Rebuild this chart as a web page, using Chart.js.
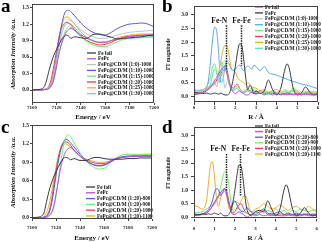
<!DOCTYPE html>
<html>
<head>
<meta charset="utf-8">
<script src="https://cdn.jsdelivr.net/npm/chart.js@4.4.1/dist/chart.umd.min.js"></script>
<style>
  body { margin: 0; background: #fff; width: 322px; height: 242px; overflow: hidden; position: relative; }
  .panel { position: absolute; width: 161px; height: 121px; }
  .panel canvas { position: absolute; left: 0; top: 0; }
  .tag { position: absolute; left: 1px; top: -5px; font: bold 19px "Liberation Serif", serif; color: #000; }
</style>
</head>
<body>
<div class="panel" style="left:0;top:0"><canvas id="chartA" width="161" height="121"></canvas><div class="tag">a</div></div>
<div class="panel" style="left:161px;top:0"><canvas id="chartB" width="161" height="121"></canvas><div class="tag">b</div></div>
<div class="panel" style="left:0;top:121px"><canvas id="chartC" width="161" height="121"></canvas><div class="tag">c</div></div>
<div class="panel" style="left:161px;top:121px"><canvas id="chartD" width="161" height="121"></canvas><div class="tag">d</div></div>
<script>
// XANES energy grid (eV)
const energy = [7100, 7105, 7108, 7110, 7112, 7114, 7116, 7118, 7120, 7122, 7124, 7126, 7128, 7130, 7132,
  7135, 7140, 7145, 7150, 7155, 7160, 7165, 7170, 7175, 7180, 7185, 7190, 7195, 7200];

// panel a
const aLabels = ["Fe foil", "FePc", "FePc@CD/M (1:0)-1000", "FePc@CD/M (1:10)-1000", "FePc@CD/M (1:15)-1000",
  "FePc@CD/M (1:20)-1000", "FePc@CD/M (1:25)-1000", "FePc@CD/M (1:30)-1000"];
const aFeFoil = [0, 0.01, 0.02, 0.06, 0.18, 0.36, 0.51, 0.64, 0.73, 0.82, 0.91, 0.97, 1.0, 0.98, 0.94, 0.97, 0.95, 0.94, 1.01, 1.02, 0.99, 0.96, 0.93, 0.94, 0.95, 0.96, 0.97, 0.99, 1.0];
const aFePc = [0, 0, 0, 0.01, 0.01, 0.03, 0.08, 0.2, 0.42, 0.65, 0.82, 0.95, 1.05, 1.1, 1.12, 1.08, 1.0, 0.95, 0.9, 0.87, 0.87, 0.9, 0.93, 0.95, 0.97, 0.98, 0.99, 1.0, 1.0];
const a1to0 = [0, 0, 0, 0.01, 0.02, 0.05, 0.12, 0.3, 0.55, 0.8, 1.0, 1.15, 1.25, 1.28, 1.26, 1.2, 1.1, 1.02, 0.97, 0.94, 0.94, 0.97, 1.0, 1.03, 1.05, 1.06, 1.07, 1.08, 1.08];
const a1to10 = [0, 0, 0, 0.01, 0.02, 0.04, 0.12, 0.3, 0.58, 0.88, 1.15, 1.35, 1.44, 1.45, 1.42, 1.35, 1.22, 1.12, 1.05, 1.01, 1.0, 1.05, 1.12, 1.17, 1.2, 1.21, 1.22, 1.2, 1.15];
const a1to15 = [0, 0, 0, 0.01, 0.01, 0.03, 0.08, 0.2, 0.4, 0.65, 0.85, 1.0, 1.1, 1.15, 1.14, 1.08, 0.97, 0.88, 0.82, 0.79, 0.79, 0.83, 0.88, 0.92, 0.94, 0.95, 0.95, 0.96, 0.96];
const a1to20 = [0, 0, 0, 0.01, 0.02, 0.08, 0.22, 0.45, 0.7, 0.95, 1.12, 1.2, 1.23, 1.22, 1.18, 1.1, 0.98, 0.9, 0.85, 0.82, 0.83, 0.87, 0.92, 0.96, 0.98, 0.99, 1.0, 1.0, 1.0];
const a1to25 = [0, 0, 0, 0.01, 0.02, 0.05, 0.15, 0.35, 0.62, 0.92, 1.15, 1.28, 1.33, 1.32, 1.28, 1.2, 1.06, 0.96, 0.89, 0.86, 0.86, 0.9, 0.95, 0.98, 1.0, 1.01, 1.02, 1.02, 1.02];
const a1to30 = [0, 0, 0, 0.01, 0.01, 0.03, 0.1, 0.25, 0.5, 0.78, 1.0, 1.14, 1.2, 1.22, 1.2, 1.13, 1.02, 0.94, 0.89, 0.87, 0.88, 0.9, 0.92, 0.93, 0.94, 0.95, 0.96, 0.97, 0.98];

// panel c
const cLabels = ["Fe foil", "FePc", "FePc@CD/M (1:20)-800", "FePc@CD/M (1:20)-900", "FePc@CD/M (1:20)-1000", "FePc@CD/M (1:20)-1100"];
const cFeFoil = [0, 0.01, 0.03, 0.08, 0.25, 0.42, 0.55, 0.66, 0.75, 0.83, 0.9, 0.96, 0.98, 0.97, 0.94, 0.96, 0.93, 0.93, 0.97, 0.98, 0.96, 0.95, 0.95, 0.95, 0.96, 0.96, 0.97, 0.97, 0.97];
const cFePc = [0, 0, 0, 0.01, 0.01, 0.03, 0.08, 0.18, 0.38, 0.6, 0.82, 0.97, 1.07, 1.12, 1.14, 1.1, 1.0, 0.94, 0.9, 0.88, 0.88, 0.92, 0.96, 0.98, 0.99, 1.0, 1.0, 1.01, 1.01];
const c800 = [0, 0, 0, 0.01, 0.02, 0.07, 0.2, 0.42, 0.68, 0.92, 1.1, 1.22, 1.27, 1.26, 1.22, 1.15, 1.03, 0.93, 0.87, 0.84, 0.85, 0.9, 0.96, 0.99, 1.0, 1.0, 1.0, 1.0, 1.0];
const c900 = [0, 0, 0, 0.01, 0.01, 0.03, 0.06, 0.15, 0.35, 0.62, 0.9, 1.15, 1.3, 1.35, 1.32, 1.22, 1.05, 0.92, 0.84, 0.79, 0.8, 0.88, 0.97, 1.02, 1.03, 1.03, 1.03, 1.03, 1.03];
const c1000 = [0, 0, 0, 0.01, 0.03, 0.1, 0.25, 0.5, 0.75, 0.98, 1.14, 1.21, 1.23, 1.22, 1.18, 1.1, 1.0, 0.92, 0.87, 0.85, 0.86, 0.9, 0.95, 0.98, 0.99, 1.0, 1.0, 1.0, 1.0];
const c1100 = [0, 0, 0, 0.02, 0.08, 0.2, 0.38, 0.6, 0.82, 1.0, 1.12, 1.18, 1.2, 1.18, 1.15, 1.08, 1.0, 0.95, 0.92, 0.9, 0.9, 0.92, 0.95, 0.98, 1.0, 1.01, 1.02, 1.03, 1.03];

// FT-EXAFS R grid (Å)
const rGrid = [0, 0.2, 0.4, 0.6, 0.7, 0.8, 0.9, 1.0, 1.1, 1.2, 1.3, 1.4, 1.5, 1.6, 1.7, 1.8, 1.9, 2.0, 2.1, 2.2,
  2.3, 2.4, 2.5, 2.6, 2.7, 2.8, 2.9, 3.0, 3.2, 3.4, 3.6, 3.8, 4.0, 4.2, 4.4, 4.5, 4.6, 4.8, 5.0, 5.2, 5.4, 5.6, 5.8, 6.0];

// panel b (legend order as printed)
const bLabels = aLabels;
const bFeFoil = [0.05, 0.08, 0.12, 0.2, 0.25, 0.35, 0.45, 0.6, 0.7, 0.85, 0.95, 1.05, 1.1, 0.95, 0.6, 0.3, 0.15, 0.1, 0.15, 0.2, 0.15, 0.1, 0.05, 0.05, 0.1, 0.15, 0.1, 0.08, 0.12, 0.05, 0.1, 0.05, 0.1, 0.05, 0.08, 0.05, 0.08, 0.05, 0.08, 0.05, 0.08, 0.05, 0.05, 0.05];
const bFePc = [0.15, 0.12, 0.1, 0.12, 0.1, 0.08, 0.1, 0.12, 0.1, 0.08, 0.12, 0.08, 0.05, 0.05, 0.1, 0.3, 0.65, 1.1, 1.6, 1.93, 1.9, 1.4, 0.7, 0.25, 0.4, 0.3, 0.1, 0.2, 0.1, 0.2, 0.6, 0.25, 0.05, 0.3, 1.0, 1.2, 1.05, 0.3, 0.05, 0.12, 0.35, 0.15, 0.05, 0.12];
const b1to0 = [0.3, 0.2, 0.2, 0.3, 0.35, 0.4, 0.45, 0.55, 0.35, 0.8, 1.3, 0.8, 0.3, 0.55, 0.5, 0.3, 0.2, 0.25, 0.3, 0.2, 0.15, 0.2, 0.25, 0.2, 0.15, 0.2, 0.15, 0.2, 0.15, 0.2, 0.15, 0.2, 0.15, 0.2, 0.15, 0.15, 0.2, 0.15, 0.2, 0.15, 0.2, 0.15, 0.2, 0.15];
const b1to10 = [0.25, 0.2, 0.2, 0.3, 0.6, 1.3, 2.1, 2.55, 2.4, 1.5, 0.5, 0.6, 1.1, 1.3, 1.2, 1.0, 0.95, 1.0, 1.1, 1.15, 1.05, 0.95, 1.05, 1.12, 1.05, 1.0, 1.15, 1.1, 0.95, 1.1, 0.88, 0.82, 0.78, 0.72, 0.66, 0.63, 0.6, 0.55, 0.5, 0.45, 0.42, 0.38, 0.33, 0.28];
const b1to15 = [0.2, 0.2, 0.22, 0.35, 0.5, 0.7, 1.1, 1.2, 0.9, 0.55, 0.9, 1.25, 1.3, 1.0, 0.5, 0.3, 0.25, 0.35, 0.35, 0.3, 0.2, 0.15, 0.18, 0.2, 0.25, 0.3, 0.25, 0.2, 0.1, 0.2, 0.1, 0.2, 0.15, 0.1, 0.25, 0.2, 0.15, 0.3, 0.2, 0.1, 0.15, 0.2, 0.1, 0.15];
const b1to20 = [0.1, 0.12, 0.15, 0.25, 0.28, 0.35, 0.42, 0.5, 0.6, 0.75, 0.85, 0.95, 1.0, 0.8, 0.45, 0.35, 0.3, 0.4, 0.45, 0.3, 0.2, 0.15, 0.2, 0.25, 0.2, 0.15, 0.1, 0.1, 0.2, 0.1, 0.15, 0.1, 0.12, 0.08, 0.1, 0.12, 0.1, 0.08, 0.1, 0.08, 0.1, 0.08, 0.1, 0.08];
const b1to25 = [0.2, 0.22, 0.25, 0.3, 0.32, 0.35, 0.4, 0.45, 0.6, 0.9, 1.3, 1.7, 1.88, 1.85, 1.5, 1.05, 0.95, 0.9, 0.7, 0.6, 0.55, 0.5, 0.45, 0.5, 0.45, 0.35, 0.32, 0.3, 0.2, 0.25, 0.15, 0.2, 0.25, 0.15, 0.1, 0.12, 0.15, 0.2, 0.15, 0.1, 0.15, 0.1, 0.15, 0.1];
const b1to30 = [0.15, 0.15, 0.15, 0.2, 0.3, 0.45, 0.8, 1.0, 0.85, 0.5, 0.7, 1.05, 1.15, 0.9, 0.45, 0.25, 0.2, 0.3, 0.28, 0.22, 0.15, 0.12, 0.15, 0.2, 0.2, 0.25, 0.2, 0.15, 0.1, 0.15, 0.08, 0.15, 0.1, 0.08, 0.2, 0.15, 0.1, 0.25, 0.15, 0.08, 0.12, 0.15, 0.08, 0.1];

// panel d
const dLabels = cLabels;
const dFeFoil = [0.12, 0.1, 0.12, 0.1, 0.12, 0.1, 0.12, 0.15, 0.12, 0.1, 0.15, 0.08, 0.05, 0.05, 0.1, 0.25, 0.55, 1.0, 1.55, 1.93, 1.88, 1.4, 0.7, 0.25, 0.1, 0.05, 0.12, 0.2, 0.25, 0.2, 0.6, 0.3, 0.05, 0.3, 1.0, 1.2, 1.05, 0.35, 0.05, 0.15, 0.35, 0.15, 0.05, 0.1];
const dFePc = [0.1, 0.08, 0.1, 0.18, 0.22, 0.3, 0.42, 0.55, 0.68, 0.8, 0.9, 1.0, 1.05, 0.9, 0.55, 0.25, 0.1, 0.1, 0.15, 0.2, 0.15, 0.1, 0.05, 0.0, 0.05, 0.1, 0.08, 0.05, 0.1, 0.05, 0.08, 0.05, 0.08, 0.05, 0.05, 0.05, 0.08, 0.05, 0.05, 0.05, 0.08, 0.05, 0.05, 0.05];
const d800 = [0.05, 0.08, 0.1, 0.2, 0.28, 0.4, 0.6, 0.9, 1.05, 1.0, 0.8, 0.9, 1.05, 0.85, 0.5, 0.35, 0.5, 0.6, 0.45, 0.3, 0.22, 0.2, 0.28, 0.35, 0.25, 0.2, 0.12, 0.1, 0.2, 0.3, 0.15, 0.1, 0.15, 0.2, 0.1, 0.12, 0.15, 0.1, 0.15, 0.1, 0.12, 0.08, 0.12, 0.1];
const d900 = [0.15, 0.18, 0.2, 0.3, 0.35, 0.4, 0.48, 0.55, 0.6, 0.8, 1.1, 1.45, 1.68, 1.6, 1.2, 0.6, 0.25, 0.2, 0.3, 0.35, 0.28, 0.2, 0.15, 0.15, 0.2, 0.2, 0.18, 0.15, 0.25, 0.15, 0.25, 0.2, 0.3, 0.2, 0.25, 0.2, 0.15, 0.25, 0.2, 0.3, 0.25, 0.2, 0.25, 0.2];
const d1000 = [0.05, 0.08, 0.1, 0.15, 0.2, 0.3, 0.4, 0.5, 0.62, 0.75, 0.9, 1.0, 1.05, 0.95, 0.6, 0.3, 0.15, 0.2, 0.35, 0.45, 0.5, 0.35, 0.2, 0.15, 0.1, 0.1, 0.15, 0.2, 0.15, 0.25, 0.1, 0.15, 0.08, 0.12, 0.1, 0.08, 0.1, 0.08, 0.1, 0.08, 0.1, 0.12, 0.08, 0.1];
const d1100 = [0.45, 0.38, 0.3, 0.55, 1.2, 1.9, 2.05, 1.5, 0.7, 0.4, 0.7, 0.9, 0.95, 0.75, 0.35, 0.25, 0.45, 0.6, 0.55, 0.5, 0.6, 0.75, 0.8, 0.65, 0.35, 0.2, 0.22, 0.3, 0.35, 0.5, 0.4, 0.3, 0.35, 0.45, 0.35, 0.3, 0.25, 0.35, 0.4, 0.3, 0.25, 0.4, 0.3, 0.25];

// ticks
const energyTicks = [7100, 7120, 7140, 7160, 7180, 7200];
const xanesYTicks = [0, 0.3, 0.6, 0.9, 1.2, 1.5];
const rTicks = [0, 1, 2, 3, 4, 5, 6];
const ftYTicks = [0, 0.5, 1.0, 1.5, 2.0, 2.5, 3.0];

// bond annotations
const bondNames = ["Fe-N", "Fe-Fe"];
const bondR = [1.55, 2.27];

const DARK = "#3a3a48", PURPLE = "#c048f0", GRAYBLUE = "#b4c4dc", BLUE = "#5a5ae6", SKY = "#5aaaf0",
  GREEN = "#6cf06c", RED = "#f03a4a", ORANGE = "#f0ac24", AQUA = "#4ae6b4", BLUE2 = "#5060e8";
const SERIF = '"Liberation Serif", "DejaVu Serif", serif';

Chart.defaults.font.family = SERIF;
Chart.defaults.font.weight = "bold";
Chart.defaults.color = "#222";

const frame = {
  id: "frame",
  afterDraw(chart) {
    const { ctx, chartArea: a } = chart;
    ctx.save();
    ctx.strokeStyle = "#444";
    ctx.lineWidth = 1;
    ctx.strokeRect(Math.round(a.left) + 0.5, Math.round(a.top) + 0.5,
      Math.round(a.right - a.left) - 1, Math.round(a.bottom - a.top) - 1);
    ctx.restore();
  }
};

const inLegend = {
  id: "inLegend",
  afterDatasetsDraw(chart, args, o) {
    const ctx = chart.ctx;
    ctx.save();
    ctx.font = "bold 5.2px " + SERIF;
    ctx.textBaseline = "middle";
    chart.data.datasets.forEach((d, i) => {
      const y = o.y + i * o.row;
      ctx.strokeStyle = d.borderColor;
      ctx.lineWidth = 1.3;
      ctx.beginPath();
      ctx.moveTo(o.x, y);
      ctx.lineTo(o.x + o.len, y);
      ctx.stroke();
      ctx.fillStyle = "#111";
      ctx.fillText(d.label, o.x + o.len + 2, y + 0.3);
    });
    ctx.restore();
  }
};

const bonds = {
  id: "bonds",
  afterDatasetsDraw(chart, args, o) {
    if (!o.textR) return;
    const { ctx, scales: { x, y } } = chart;
    ctx.save();
    bondNames.forEach((name, i) => {
      ctx.font = "bold 7.5px " + SERIF;
      ctx.textAlign = "center";
      ctx.textBaseline = "middle";
      ctx.fillStyle = "#111";
      ctx.fillText(name, x.getPixelForValue(o.textR[i]), y.getPixelForValue(o.textY));
      const px = Math.round(x.getPixelForValue(bondR[i])) + 0.5;
      ctx.setLineDash([1.5, 1]);
      ctx.lineWidth = 1.5;
      ctx.strokeStyle = "#222";
      ctx.beginPath();
      ctx.moveTo(px, y.getPixelForValue(o.top));
      ctx.lineTo(px, y.getPixelForValue(o.bottom[i]));
      ctx.stroke();
    });
    ctx.restore();
  }
};

function makeChart(id, xs, series, labels, colors, cfg) {
  const datasets = series.map((ys, i) => ({
    label: labels[i],
    data: ys.map((v, j) => ({ x: xs[j], y: v })),
    borderColor: colors[i],
    borderWidth: 1,
    pointRadius: 0,
    fill: false,
    cubicInterpolationMode: "monotone"
  }));
  const gridOpts = { display: true, drawOnChartArea: false, drawTicks: true, tickLength: cfg.tickLen, color: "#444" };
  new Chart(document.getElementById(id), {
    type: "line",
    data: { datasets },
    plugins: [frame, inLegend, bonds],
    options: {
      responsive: false,
      animation: false,
      devicePixelRatio: 1,
      layout: { padding: cfg.pad },
      plugins: {
        legend: { display: false },
        tooltip: { enabled: false },
        inLegend: cfg.legend,
        bonds: cfg.bonds || {}
      },
      scales: {
        x: {
          type: "linear",
          min: cfg.xMin, max: cfg.xMax,
          afterBuildTicks: s => { s.ticks = cfg.xTicks.map(v => ({ value: v })); },
          afterFit: s => { s.height = cfg.xHeight; },
          ticks: { font: { size: 5 }, padding: cfg.xPad, maxRotation: 0, autoSkip: false, callback: v => String(v) },
          grid: gridOpts,
          border: { display: false },
          title: { display: true, text: cfg.xTitle, font: { size: 7 }, color: "#111", padding: 0 }
        },
        y: {
          min: cfg.yMin, max: cfg.yMax,
          afterBuildTicks: s => { s.ticks = cfg.yTicks.map(v => ({ value: v })); },
          afterFit: s => { s.width = cfg.yWidth; },
          ticks: { font: { size: 5.5 }, padding: cfg.yPad, callback: v => v.toFixed(1) },
          grid: gridOpts,
          border: { display: false },
          title: { display: true, text: cfg.yTitle, font: cfg.yTitleFont, color: "#111", padding: { top: cfg.yTitlePad, bottom: 0 } }
        }
      }
    }
  });
}

makeChart("chartA", energy, [aFeFoil, aFePc, a1to0, a1to10, a1to15, a1to20, a1to25, a1to30], aLabels,
  [DARK, PURPLE, GRAYBLUE, BLUE, GREEN, RED, ORANGE, AQUA], {
    pad: { left: 0, top: 4, right: 7, bottom: 0 }, xHeight: 18, yWidth: 32, tickLen: 2, xPad: 0, yPad: 1,
    xMin: 7100, xMax: 7200, yMin: -0.236, yMax: 1.56, xTicks: energyTicks, yTicks: xanesYTicks,
    xTitle: "Energy / eV", yTitle: "Absorption Intensity /a.u.", yTitleFont: { size: 6.8, style: "italic" }, yTitlePad: 9.5,
    legend: { x: 87, y: 53, row: 5.8, len: 9 }
  });

makeChart("chartB", rGrid, [bFeFoil, bFePc, b1to0, b1to10, b1to15, b1to20, b1to25, b1to30], bLabels,
  [PURPLE, DARK, GRAYBLUE, SKY, GREEN, RED, ORANGE, AQUA], {
    pad: { left: 0, top: 2, right: 4, bottom: 0 }, xHeight: 19, yWidth: 33, tickLen: 3, xPad: 0, yPad: 3,
    xMin: 0, xMax: 6, yMin: -0.21, yMax: 3.32, xTicks: rTicks, yTicks: ftYTicks,
    xTitle: "R / Å", yTitle: "FT magnitude", yTitleFont: { size: 5.2 }, yTitlePad: 5,
    legend: { x: 94, y: 7, row: 5.9, len: 8 },
    bonds: { textR: [1.22, 2.3], textY: 2.79, top: 2.62, bottom: [1.0, 1.12] }
  });

makeChart("chartC", energy, [cFeFoil, cFePc, c800, c900, c1000, c1100], cLabels,
  [DARK, PURPLE, BLUE2, GREEN, RED, ORANGE], {
    pad: { left: 0, top: 4, right: 7, bottom: 0 }, xHeight: 23, yWidth: 32, tickLen: 2, xPad: 4, yPad: 1,
    xMin: 7100, xMax: 7200, yMin: -0.02, yMax: 1.5, xTicks: energyTicks, yTicks: xanesYTicks,
    xTitle: "Energy / eV", yTitle: "Absorption Intensity /a.u.", yTitleFont: { size: 6.8, style: "italic" }, yTitlePad: 9.5,
    legend: { x: 86, y: 66, row: 5.8, len: 9 }
  });

makeChart("chartD", rGrid, [dFeFoil, dFePc, d800, d900, d1000, d1100], dLabels,
  [DARK, PURPLE, BLUE2, GREEN, RED, ORANGE], {
    pad: { left: 0, top: 2, right: 4, bottom: 0 }, xHeight: 23.5, yWidth: 33, tickLen: 3, xPad: 4, yPad: 3,
    xMin: 0, xMax: 6, yMin: -0.05, yMax: 3.32, xTicks: rTicks, yTicks: ftYTicks,
    xTitle: "R / Å", yTitle: "FT magnitude", yTitleFont: { size: 5.2 }, yTitlePad: 5,
    legend: { x: 94, y: 5, row: 5.6, len: 8 },
    bonds: { textR: [1.18, 2.28], textY: 2.5, top: 2.33, bottom: [0.98, 0.8] }
  });
</script>
</body>
</html>
